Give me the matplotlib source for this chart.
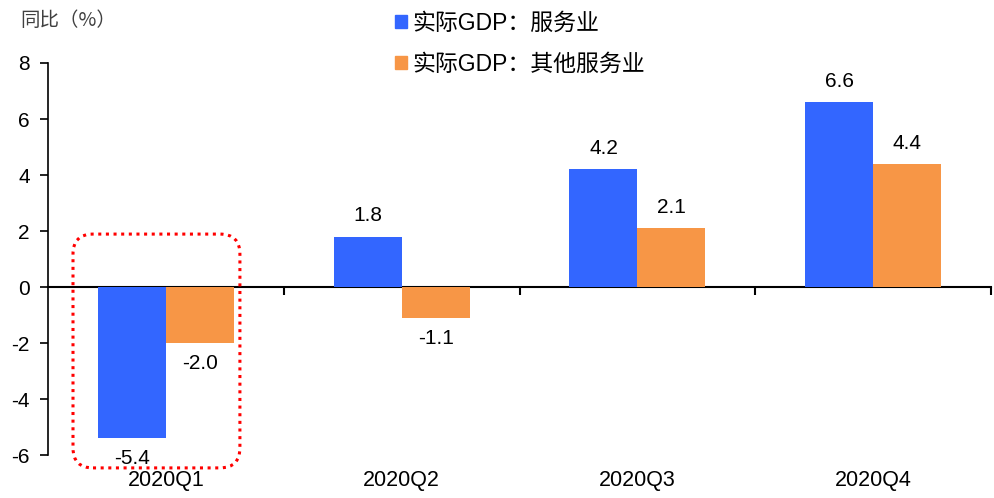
import numpy as np
import matplotlib.pyplot as plt
from matplotlib.patches import FancyBboxPatch, Patch

plt.rcParams['font.family'] = ['Liberation Sans', 'Noto Sans CJK SC', 'DejaVu Sans']
plt.rcParams['axes.unicode_minus'] = False

# data
quarters = ['2020Q1', '2020Q2', '2020Q3', '2020Q4']
services = [-5.4, 1.8, 4.2, 6.6]
other_services = [-2.0, -1.1, 2.1, 4.4]
series_names = ['实际GDP：服务业', '实际GDP：其他服务业']
blue = '#3366FF'
orange = '#F79646'

fig = plt.figure(figsize=(9.94, 4.98), dpi=100)
ax = fig.add_axes([0.0483, 0.0863, 0.9487, 0.7872])

x = np.arange(len(quarters))
w = 0.288
b1 = ax.bar(x - w / 2, services, w, color=blue)
b2 = ax.bar(x + w / 2, other_services, w, color=orange)
ax.bar_label(b1, fmt='%.1f', padding=8, fontsize=15)
ax.bar_label(b2, fmt='%.1f', padding=8, fontsize=15)

ymin, ymax = -6, 8
ax.set_ylim(ymin, ymax)
ax.set_xlim(-0.5, 3.5)
ax.set_yticks(np.arange(-6, 9, 2))
ax.tick_params(axis='y', direction='out', length=6, width=1.2, labelsize=15, pad=7)

# category labels at the bottom
ax.set_xticks(x)
ax.set_xticklabels(quarters, fontsize=15.5)
ax.tick_params(axis='x', length=0, pad=11)

for s in ['top', 'right', 'bottom']:
    ax.spines[s].set_visible(False)
ax.spines['left'].set_linewidth(1.2)

# zero line with group boundary ticks
sec = ax.secondary_xaxis((0 - ymin) / (ymax - ymin))
sec.set_xticks(x + 0.5)
sec.set_xticklabels([''] * len(x))
sec.tick_params(axis='x', direction='out', length=6, width=1.5)
sec.spines['bottom'].set_linewidth(1.5)

# dotted highlight box around Q1
fig.canvas.draw()
x0, y0 = ax.transData.transform((-0.394, -6.46))
x1, y1 = ax.transData.transform((0.314, 1.89))
box = FancyBboxPatch((x0, y0), x1 - x0, y1 - y0,
                     boxstyle='round,pad=0,rounding_size=20',
                     transform=None, fill=False, edgecolor='red',
                     linestyle=(0, (1, 1.5)), linewidth=2.2, clip_on=False)
fig.patches.append(box)

# legend
handles = [Patch(color=blue), Patch(color=orange)]
fig.legend(handles, series_names, loc='upper left',
           bbox_to_anchor=(384 / 994, 1.0), frameon=False, fontsize=16.5,
           handlelength=0.5, handleheight=0.5, handletextpad=0.25,
           labelspacing=0.8, borderaxespad=0.1)

fig.text(20 / 994, 1 - 20 / 498, '同比（%）', fontsize=14, va='center',
         ha='left', family=['Noto Sans CJK SC', 'DejaVu Sans'], color='#404040')

fig.savefig('out.png', dpi=100)
